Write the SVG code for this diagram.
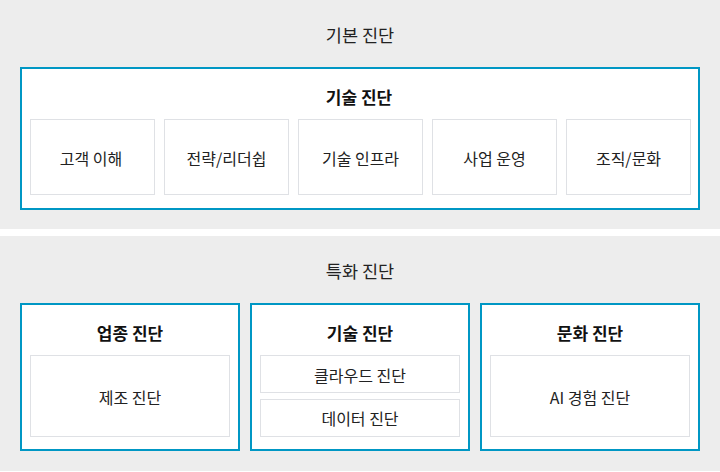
<svg xmlns="http://www.w3.org/2000/svg" width="720" height="472" viewBox="0 0 720 472">
<style>
.panel{fill:#ededed}
.blue{fill:#fff;stroke:#0097c4;stroke-width:2}
.cell{fill:#fff;stroke:#dfe1e5;stroke-width:1}
text{font-family:"Noto Sans CJK KR","Noto Sans",sans-serif;fill:#222;text-anchor:middle;dominant-baseline:central}
.t{font-size:17.5px}
.h{font-size:17px;font-weight:bold;fill:#111}
.c{font-size:16px}
</style>
<rect width="720" height="472" fill="#ffffff"/>
<g id="basic">
<rect class="panel" x="0" y="0" width="720" height="229"/>
<text class="t" x="360" y="34">기본 진단</text>
</g>
<g id="tech-basic">
<rect class="blue" x="21" y="68" width="678" height="141"/>
<text class="h" x="359" y="96">기술 진단</text>
</g>
<g id="cust"><rect class="cell" x="30.5" y="119.5" width="124" height="75"/><text class="c" x="91" y="158">고객 이해</text></g>
<g id="strat"><rect class="cell" x="164.5" y="119.5" width="124" height="75"/><text class="c" x="226.5" y="158">전략/리더쉽</text></g>
<g id="infra"><rect class="cell" x="298.5" y="119.5" width="124" height="75"/><text class="c" x="360.5" y="158">기술 인프라</text></g>
<g id="ops"><rect class="cell" x="432.5" y="119.5" width="124" height="75"/><text class="c" x="494.5" y="158">사업 운영</text></g>
<g id="org"><rect class="cell" x="566.5" y="119.5" width="124" height="75"/><text class="c" x="628.5" y="158">조직/문화</text></g>
<g id="special">
<rect class="panel" x="0" y="236" width="720" height="235"/>
<text class="t" x="360" y="270">특화 진단</text>
</g>
<g id="industry">
<rect class="blue" x="21" y="304" width="218" height="146"/>
<text class="h" x="130" y="332">업종 진단</text>
<rect class="cell" x="30.5" y="355.5" width="199" height="81"/>
<text class="c" x="130" y="397">제조 진단</text>
</g>
<g id="tech-special">
<rect class="blue" x="251" y="304" width="218" height="146"/>
<text class="h" x="360" y="332">기술 진단</text>
<rect class="cell" x="260.5" y="355.5" width="199" height="37"/>
<text class="c" x="360" y="375">클라우드 진단</text>
<rect class="cell" x="260.5" y="399.5" width="199" height="37"/>
<text class="c" x="360" y="418">데이터 진단</text>
</g>
<g id="culture">
<rect class="blue" x="481" y="304" width="218" height="146"/>
<text class="h" x="590" y="332">문화 진단</text>
<rect class="cell" x="490.5" y="355.5" width="199" height="81"/>
<text class="c" x="590" y="397">AI 경험 진단</text>
</g>
<g id="connectors"></g>
</svg>
